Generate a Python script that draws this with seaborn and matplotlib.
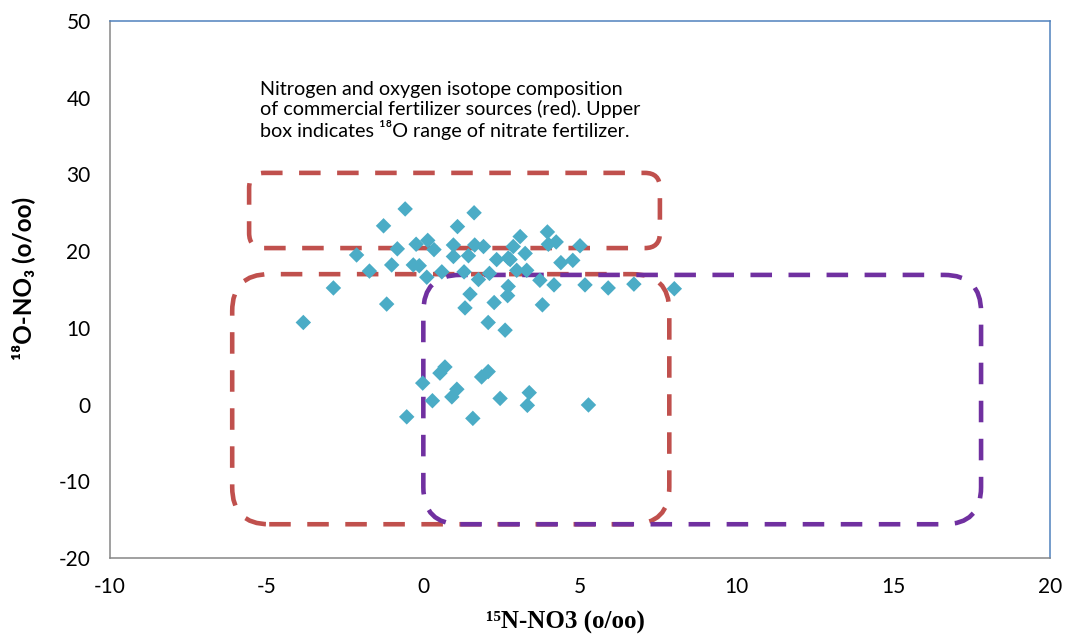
import numpy as np
import matplotlib.pyplot as plt
import seaborn as sns
from matplotlib.patches import FancyBboxPatch, BoxStyle

# delta 15N / delta 18O of nitrate samples (o/oo)
d15n = [-0.58, -1.27, 1.62, 1.09, -2.13, -0.83, -0.23, 0.14, 0.34, 0.96,
        0.96, 1.44, 1.64, -1.01, -1.72, -0.32, -0.13, 0.11, 0.59, 1.30,
        -2.87, 1.49, -1.17, 1.33, -3.83,
        1.92, 3.09, 2.87, 3.96, 3.99, 4.24, 5.00, 3.25, 2.71, 2.34,
        2.77, 4.39, 4.77, 2.11, 2.98, 3.30, 1.76, 3.72, 4.17, 5.16,
        5.90, 6.72, 8.01, 2.71, 2.69, 2.26, 3.80, 2.07, 2.61,
        0.69, 0.53, -0.02, 0.29, 1.07, 0.91, -0.53, 2.07, 1.86, 2.45,
        1.58, 3.38, 3.32, 5.27]
d18o = [25.5, 23.3, 25.0, 23.2, 19.5, 20.3, 20.9, 21.4, 20.2, 20.8,
        19.3, 19.4, 20.8, 18.2, 17.4, 18.2, 18.1, 16.6, 17.3, 17.3,
        15.2, 14.4, 13.1, 12.6, 10.7,
        20.6, 21.9, 20.6, 22.5, 20.9, 21.2, 20.7, 19.7, 19.1, 18.9,
        18.9, 18.5, 18.8, 17.1, 17.5, 17.5, 16.3, 16.2, 15.6, 15.6,
        15.2, 15.7, 15.1, 15.4, 14.2, 13.3, 13.0, 10.7, 9.7,
        4.9, 4.1, 2.8, 0.5, 2.0, 1.0, -1.6, 4.3, 3.6, 0.8,
        -1.8, 1.55, -0.1, -0.05]

# source ranges: (x0, x1, y0, y1, rounding in px, colour)
fert_nitrate = (-5.56, 7.55, 20.4, 30.2, 15, '#C0504D')
fert_all = (-6.1, 7.85, -15.6, 17.0, 37, '#C0504D')
other_src = (0.0, 17.8, -15.6, 16.9, 37, '#7030A0')

xticks = [-10, -5, 0, 5, 10, 15, 20]
yticks = [-20, -10, 0, 10, 20, 30, 40, 50]

sns.set_style('white')
plt.rcParams['font.family'] = ['Lato', 'DejaVu Sans']
plt.rcParams['axes.unicode_minus'] = False
plt.rcParams['text.color'] = 'black'

fig = plt.figure(figsize=(10.67, 6.35), dpi=100)
ax = fig.add_axes([110/1067, 77/635, 940/1067, 537/635])

sns.scatterplot(x=d15n, y=d18o, marker='D', s=62, color='#4BACC6',
                edgecolor='none', ax=ax, zorder=3)

ax.set_xlim(-10, 20)
ax.set_ylim(-20, 50)
ax.set_xticks(xticks)
ax.set_yticks(yticks)
ax.tick_params(direction='out', length=6, width=1, color='#868686',
               labelsize=15, pad=8, labelcolor='black')
for s in ['left', 'bottom']:
    ax.spines[s].set_color('#868686')
    ax.spines[s].set_linewidth(1.1)
for s in ['top', 'right']:
    ax.spines[s].set_color('#4F81BD')
    ax.spines[s].set_linewidth(1.1)

# y units per x unit that give equal pixels, so the corners come out round
px_x = 940 / 30
px_y = 537 / 70
aspect = px_x / px_y

for x0, x1, y0, y1, rpx, col in [fert_nitrate, fert_all, other_src]:
    box = FancyBboxPatch((x0, y0), x1 - x0, y1 - y0,
                         boxstyle=BoxStyle.Round(pad=0, rounding_size=rpx / px_x),
                         mutation_aspect=aspect, transform=ax.transData,
                         fill=False, edgecolor=col, linewidth=3.3,
                         linestyle=(0, (4.7, 3.6)), zorder=2)
    ax.add_patch(box)

ax.text(-5.2, 42.2,
        'Nitrogen and oxygen isotope composition\n'
        'of commercial fertilizer sources (red). Upper\n'
        'box indicates \u00b9\u2078O range of nitrate fertilizer.',
        fontsize=14.2, va='top', ha='left', linespacing=1.12, color='black')

ax.set_xlabel('\u00b9\u2075N-NO3 (o/oo)', family=['Liberation Serif', 'DejaVu Serif'],
              fontweight='bold', fontsize=18, color='black')
ax.set_ylabel('\u00b9\u2078O-NO\u2083 (o/oo)', fontweight='bold', fontsize=17.5,
              color='black')
ax.xaxis.set_label_coords(0.485, -0.098)
ax.yaxis.set_label_coords(-0.08, 0.52)

plt.savefig('out.png', dpi=100)
